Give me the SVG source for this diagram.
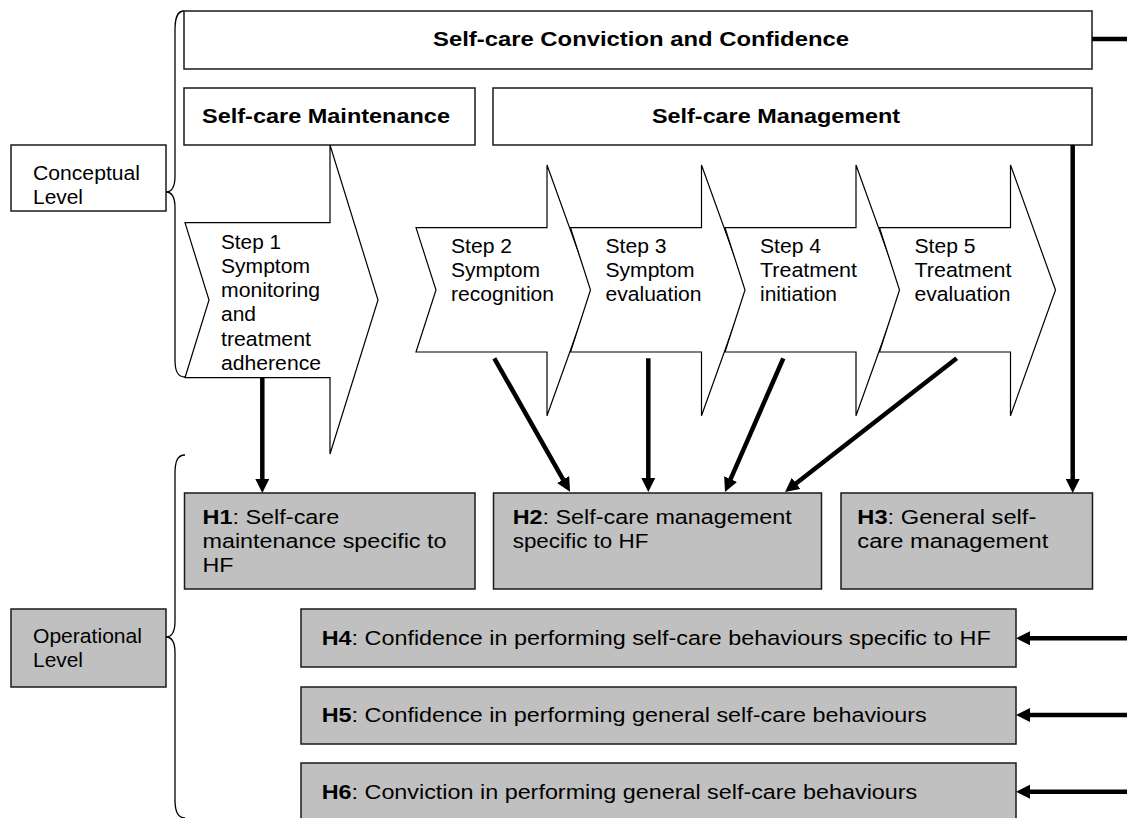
<svg xmlns="http://www.w3.org/2000/svg" width="1127" height="818" viewBox="0 0 1127 818">
  <style>
    .box { fill: #ffffff; stroke: #1a1a1a; stroke-width: 1.5; }
    .hbox { fill: #c0c0c0; stroke: #1a1a1a; stroke-width: 1.5; }
    .step { fill: #ffffff; stroke: #000000; stroke-width: 1.2; stroke-linejoin: miter; }
    .brace { fill: none; stroke: #000000; stroke-width: 1.3; }
    .conn { fill: none; stroke: #000000; stroke-width: 4.5; }
    text { font-family: "Liberation Sans", Arial, sans-serif; font-size: 20.5px; fill: #000000; }
    .bold { font-weight: bold; }
    .title { font-weight: bold; font-size: 20.5px; }
  </style>
  <defs>
    <marker id="head" markerUnits="userSpaceOnUse" viewBox="0 0 14 14" markerWidth="14" markerHeight="14" refX="3" refY="7" orient="auto">
      <path d="M0,0 L14,7 L0,14 Z" fill="#000000"/>
    </marker>
  </defs>

  <!-- level labels and braces -->
  <g id="conceptual-level">
    <rect class="box" x="11" y="145" width="155" height="66"/>
    <text x="33" y="180" textLength="107" lengthAdjust="spacingAndGlyphs">Conceptual</text>
    <text x="33" y="204" textLength="50" lengthAdjust="spacingAndGlyphs">Level</text>
    <path class="brace" d="M184,11 C177,11 175,18 175,30 L175,176 C175,187 172,192 166,192 C172,192 175,197 175,208 L175,360 C175,372 178,377 185,377"/>
  </g>
  <g id="operational-level">
    <rect class="hbox" x="11" y="609" width="155" height="78"/>
    <text x="33" y="643" textLength="109" lengthAdjust="spacingAndGlyphs">Operational</text>
    <text x="33" y="667" textLength="50" lengthAdjust="spacingAndGlyphs">Level</text>
    <path class="brace" d="M185,455 C177,455 175,462 175,474 L175,621 C175,632 172,637 166,637 C172,637 175,642 175,653 L175,800 C175,812 178,818 185,818"/>
  </g>

  <!-- conceptual boxes -->
  <g id="conviction-confidence">
    <rect class="box" x="184" y="11" width="908" height="58"/>
    <text class="title" x="433" y="46" textLength="416" lengthAdjust="spacingAndGlyphs">Self-care Conviction and Confidence</text>
  </g>
  <g id="maintenance">
    <rect class="box" x="184" y="88" width="291" height="57"/>
    <text class="title" x="202" y="123" textLength="248" lengthAdjust="spacingAndGlyphs">Self-care Maintenance</text>
  </g>
  <g id="management">
    <rect class="box" x="493" y="88" width="599" height="57"/>
    <text class="title" x="652" y="123" textLength="248" lengthAdjust="spacingAndGlyphs">Self-care Management</text>
  </g>

  <!-- process steps -->
  <g id="step1">
    <path class="step" d="M185,222.7 L330,222.7 L330,145 L378,300 L330,454 L330,377.7 L185,377.7 L209,300 Z"/>
    <text x="221" y="248.5" textLength="60" lengthAdjust="spacingAndGlyphs">Step 1</text>
    <text x="221" y="272.8" textLength="89" lengthAdjust="spacingAndGlyphs">Symptom</text>
    <text x="221" y="297" textLength="99" lengthAdjust="spacingAndGlyphs">monitoring</text>
    <text x="221" y="321.3" textLength="35" lengthAdjust="spacingAndGlyphs">and</text>
    <text x="221" y="345.6" textLength="90" lengthAdjust="spacingAndGlyphs">treatment</text>
    <text x="221" y="370" textLength="100" lengthAdjust="spacingAndGlyphs">adherence</text>
  </g>
  <g id="step2">
    <path class="step" d="M416,227.7 L547,227.7 L547,165 L592,290 L547,415.7 L547,352 L416,352 L436,290 Z"/>
    <text x="451" y="252.5" textLength="61" lengthAdjust="spacingAndGlyphs">Step 2</text>
    <text x="451" y="276.5" textLength="89" lengthAdjust="spacingAndGlyphs">Symptom</text>
    <text x="451" y="300.5" textLength="103" lengthAdjust="spacingAndGlyphs">recognition</text>
  </g>
  <g id="step3">
    <path class="step" d="M570.5,227.7 L701.5,227.7 L701.5,165 L746.5,290 L701.5,415.7 L701.5,352 L570.5,352 L590.5,290 Z"/>
    <text x="605.5" y="252.5" textLength="61" lengthAdjust="spacingAndGlyphs">Step 3</text>
    <text x="605.5" y="276.5" textLength="89" lengthAdjust="spacingAndGlyphs">Symptom</text>
    <text x="605.5" y="300.5" textLength="96" lengthAdjust="spacingAndGlyphs">evaluation</text>
  </g>
  <g id="step4">
    <path class="step" d="M725,227.7 L856,227.7 L856,165 L901,290 L856,415.7 L856,352 L725,352 L745,290 Z"/>
    <text x="760" y="252.5" textLength="61" lengthAdjust="spacingAndGlyphs">Step 4</text>
    <text x="760" y="276.5" textLength="97" lengthAdjust="spacingAndGlyphs">Treatment</text>
    <text x="760" y="300.5" textLength="77" lengthAdjust="spacingAndGlyphs">initiation</text>
  </g>
  <g id="step5">
    <path class="step" d="M879.5,227.7 L1010.5,227.7 L1010.5,165 L1055.5,290 L1010.5,415.7 L1010.5,352 L879.5,352 L899.5,290 Z"/>
    <text x="914.5" y="252.5" textLength="61" lengthAdjust="spacingAndGlyphs">Step 5</text>
    <text x="914.5" y="276.5" textLength="97" lengthAdjust="spacingAndGlyphs">Treatment</text>
    <text x="914.5" y="300.5" textLength="96" lengthAdjust="spacingAndGlyphs">evaluation</text>
  </g>

  <!-- operational measures -->
  <g id="h1">
    <rect class="hbox" x="184.5" y="493" width="290.5" height="96"/>
    <text x="202.5" y="524.3" textLength="136.7" lengthAdjust="spacingAndGlyphs"><tspan class="bold">H1</tspan>: Self-care</text>
    <text x="202.5" y="548.3" textLength="244" lengthAdjust="spacingAndGlyphs">maintenance specific to</text>
    <text x="202.5" y="572.3" textLength="31" lengthAdjust="spacingAndGlyphs">HF</text>
  </g>
  <g id="h2">
    <rect class="hbox" x="493.5" y="493" width="328" height="96"/>
    <text x="512.7" y="524.3" textLength="279" lengthAdjust="spacingAndGlyphs"><tspan class="bold">H2</tspan>: Self-care management</text>
    <text x="512.7" y="548.3" textLength="135.7" lengthAdjust="spacingAndGlyphs">specific to HF</text>
  </g>
  <g id="h3">
    <rect class="hbox" x="841" y="493" width="251.5" height="96"/>
    <text x="857.3" y="524.3" textLength="179" lengthAdjust="spacingAndGlyphs"><tspan class="bold">H3</tspan>: General self-</text>
    <text x="857.3" y="548.3" textLength="191" lengthAdjust="spacingAndGlyphs">care management</text>
  </g>
  <g id="h4">
    <rect class="hbox" x="301" y="609" width="715" height="58"/>
    <text x="321.7" y="645" textLength="669" lengthAdjust="spacingAndGlyphs"><tspan class="bold">H4</tspan>: Confidence in performing self-care behaviours specific to HF</text>
  </g>
  <g id="h5">
    <rect class="hbox" x="301" y="687" width="715" height="57"/>
    <text x="321.7" y="722" textLength="605" lengthAdjust="spacingAndGlyphs"><tspan class="bold">H5</tspan>: Confidence in performing general self-care behaviours</text>
  </g>
  <g id="h6">
    <rect class="hbox" x="301" y="763" width="715" height="57"/>
    <text x="321.7" y="799" textLength="595.6" lengthAdjust="spacingAndGlyphs"><tspan class="bold">H6</tspan>: Conviction in performing general self-care behaviours</text>
  </g>

  <!-- connectors -->
  <g id="connectors">
    <line class="conn" x1="1092" y1="39" x2="1127" y2="39"/>
    <line class="conn" x1="262.3" y1="378" x2="262.3" y2="482" marker-end="url(#head)"/>
    <line class="conn" x1="494.3" y1="358.3" x2="564.6" y2="482.1" marker-end="url(#head)"/>
    <line class="conn" x1="648.3" y1="358.3" x2="648.3" y2="481" marker-end="url(#head)"/>
    <line class="conn" x1="783.3" y1="358.3" x2="729.4" y2="481.9" marker-end="url(#head)"/>
    <line class="conn" x1="956.7" y1="358.3" x2="793.7" y2="485.2" marker-end="url(#head)"/>
    <line class="conn" x1="1072.7" y1="145" x2="1072.7" y2="482" marker-end="url(#head)"/>
    <line class="conn" x1="1127" y1="638.3" x2="1027" y2="638.3" marker-end="url(#head)"/>
    <line class="conn" x1="1127" y1="715" x2="1027" y2="715" marker-end="url(#head)"/>
    <line class="conn" x1="1127" y1="791.7" x2="1027" y2="791.7" marker-end="url(#head)"/>
  </g>
</svg>
